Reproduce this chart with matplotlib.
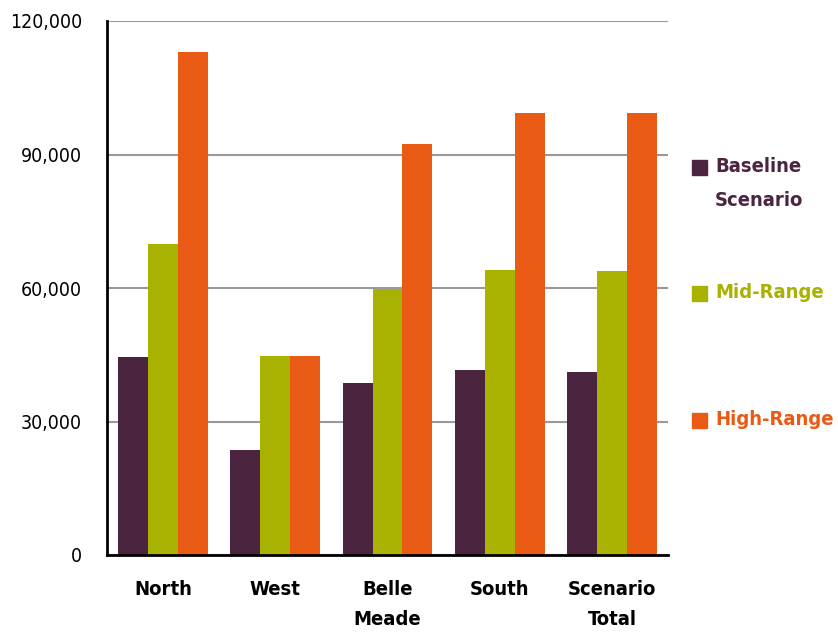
import numpy as np
import matplotlib.pyplot as plt
from matplotlib.patches import Rectangle
from matplotlib.ticker import FuncFormatter

# dati
categories = ["North", "West", "Belle\nMeade", "South", "Scenario\nTotal"]
baseline = [44500, 23600, 38700, 41600, 41100]
mid_range = [69900, 44700, 59800, 64000, 63800]
high_range = [113000, 44700, 92400, 99300, 99300]

series_names = ["Baseline\nScenario", "Mid-Range", "High-Range"]
colors = ["#4B2440", "#A9B200", "#E95A14"]

plt.rcParams["font.family"] = ["DejaVu Sans"]
plt.rcParams["font.stretch"] = "condensed"

W, H = 838, 635
fig = plt.figure(figsize=(W / 100, H / 100), dpi=100)
ax = fig.add_axes([107 / W, 1 - 555 / H, (668 - 107) / W, (555 - 21) / H])

x = np.arange(len(categories))
bw = 0.8 / 3
for i, vals in enumerate([baseline, mid_range, high_range]):
    ax.bar(x + (i - 1) * bw, vals, width=bw, color=colors[i], zorder=3)

ax.set_xlim(-0.5, len(categories) - 0.5)
ax.set_ylim(0, 120000)
ax.set_yticks([0, 30000, 60000, 90000, 120000])
ax.yaxis.set_major_formatter(FuncFormatter(lambda v, p: f"{int(v):,}"))
ax.grid(axis="y", color="#999999", linewidth=1.5, zorder=0)
ax.set_xticks(x)
ax.set_xticklabels(categories, fontsize=14.5, fontweight="bold", linespacing=1.75)
ax.tick_params(axis="x", length=0, pad=18)
ax.tick_params(axis="y", length=0, pad=18, labelsize=14)

for s in ["top", "right"]:
    ax.spines[s].set_visible(False)
ax.spines["left"].set_linewidth(2)
ax.spines["bottom"].set_linewidth(2)
ax.spines["left"].set_zorder(4)
ax.spines["bottom"].set_zorder(4)

# legenda fatta a mano
leg_y = [168, 294, 421]
for name, c, py in zip(series_names, colors, leg_y):
    fig.add_artist(Rectangle((692 / W, 1 - (py + 7) / H), 15 / W, 15 / H,
                             transform=fig.transFigure, color=c))
    fig.text(715 / W, 1 - (py - 11) / H, name, color=c, fontsize=14.5,
             fontweight="bold", va="top", ha="left", linespacing=2.0)

fig.savefig("out.png", dpi=100)
